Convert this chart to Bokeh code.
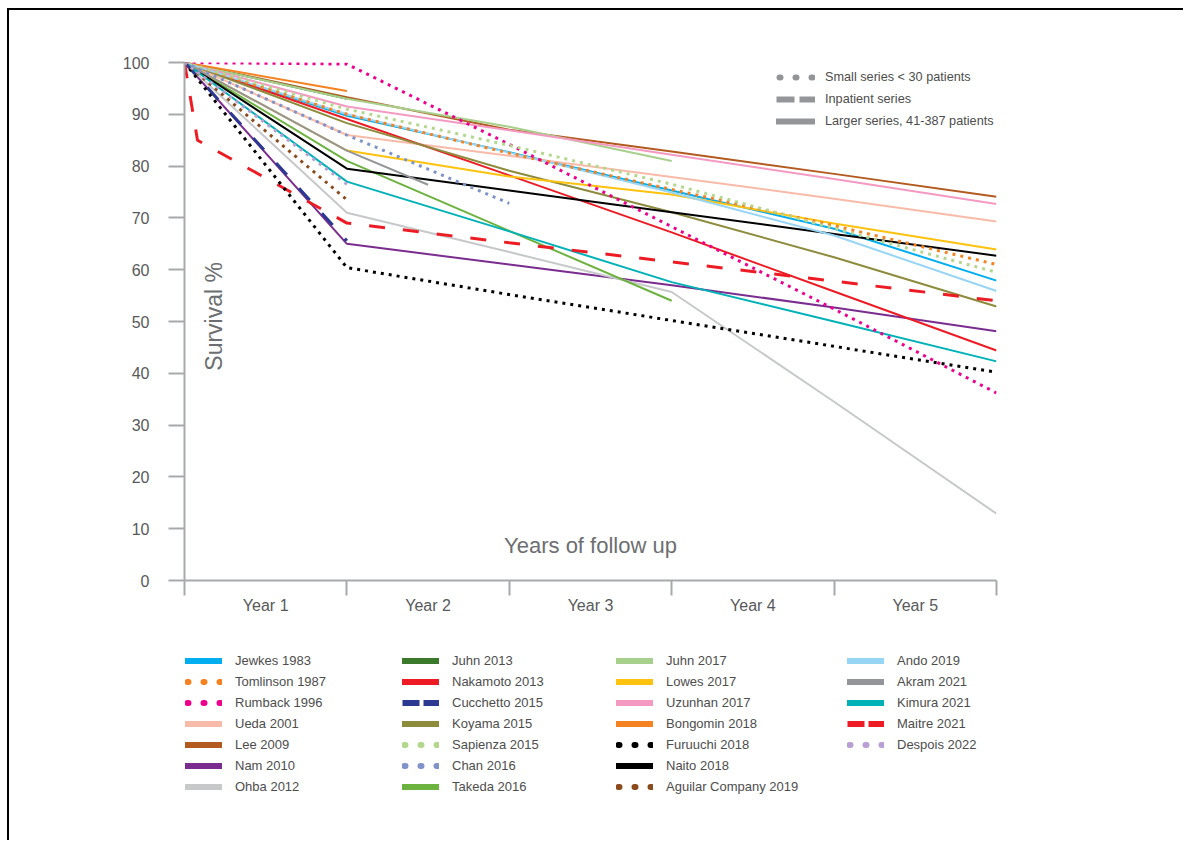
from bokeh.plotting import figure
from bokeh.layouts import column
from bokeh.models import FixedTicker, Legend, LegendItem, Label
from bokeh.embed import file_html
from bokeh.resources import INLINE

# ---------------- data ----------------
years = [0, 1, 2, 3, 4, 5]
year_tick_positions = [0.5, 1.5, 2.5, 3.5, 4.5]
year_labels = ["Year 1", "Year 2", "Year 3", "Year 4", "Year 5"]
y_ticks = [0, 10, 20, 30, 40, 50, 60, 70, 80, 90, 100]

jewkes_1983 = [100, 89.7, 82.7, 75.3, 67.9, 57.9]
tomlinson_1987 = [100, 90, 82.5, 75.5, 68.5, 61]
rumback_1996 = [100, 99.7, 84.2, 68.3, 52.4, 36.2]
ueda_2001 = [100, 86, 82, 77.9, 73.7, 69.3]
lee_2009 = [100, 93.3, 87, 82.8, 78.5, 74.1]
nam_2010 = [100, 65, 61, 57, 52.7, 48.1]
ohba_2012 = [100, 71, 63.4, 55.7, 34.5, 12.9]
juhn_2013 = [100, 93]
nakamoto_2013 = [100, 89.1, 78.2, 67.2, 55.8, 44.4]
cucchetto_2015 = [100, 65.6]
koyama_2015 = [100, 88.3, 79.1, 71.1, 62.4, 52.9]
sapienza_2015 = [100, 91, 84, 76.5, 68, 59.5]
chan_2016 = [100, 86, 72.8]
takeda_2016 = [100, 81, 67.5, 54]
juhn_2017 = [100, 93, 87.6, 81]
lowes_2017 = [100, 83, 78, 74.5, 68.9, 63.9]
uzunhan_2017 = [100, 91.5, 86.9, 82.2, 77.5, 72.7]
bongomin_2018 = [100, 94.5]
furuuchi_2018 = [100, 60.4, 55.2, 50.2, 45.2, 40.2]
naito_2018 = [100, 79.5, 75.3, 71.1, 66.9, 62.7]
aguilar_company_2019 = [100, 73.5]
ando_2019 = [100, 90, 82.6, 74.9, 66.6, 55.9]
akram_years = [0, 1, 1.5]
akram_2021 = [100, 83, 76.4]
kimura_2021 = [100, 77, 67.4, 57.6, 50, 42.3]
maitre_years = [0, 0.08, 1, 2, 3, 4, 5]
maitre_2021 = [100, 85, 69, 65.2, 61.5, 57.8, 54]
despois_2022 = [100, 76.5]

# ---------------- styles ----------------
SOLID, DASH, DOT = "solid", "dash", "dot"
series = [
    # name, x, y, color, style
    ("Jewkes 1983", years, jewkes_1983, "#00aeef", SOLID),
    ("Tomlinson 1987", years, tomlinson_1987, "#f58220", DOT),
    ("Rumback 1996", years, rumback_1996, "#ec008c", DOT),
    ("Ueda 2001", years, ueda_2001, "#f9bba9", SOLID),
    ("Lee 2009", years, lee_2009, "#b35a1f", SOLID),
    ("Nam 2010", years, nam_2010, "#7a2d8f", SOLID),
    ("Ohba 2012", years, ohba_2012, "#c7c8ca", SOLID),
    ("Juhn 2013", years, juhn_2013, "#3b7a2a", SOLID),
    ("Nakamoto 2013", years, nakamoto_2013, "#ed1c24", SOLID),
    ("Cucchetto 2015", years, cucchetto_2015, "#2b3990", DASH),
    ("Koyama 2015", years, koyama_2015, "#8d8b3c", SOLID),
    ("Sapienza 2015", years, sapienza_2015, "#b4d78e", DOT),
    ("Chan 2016", years, chan_2016, "#7f93c9", DOT),
    ("Takeda 2016", years, takeda_2016, "#6cb23f", SOLID),
    ("Juhn 2017", years, juhn_2017, "#a8d08d", SOLID),
    ("Lowes 2017", years, lowes_2017, "#ffc20e", SOLID),
    ("Uzunhan 2017", years, uzunhan_2017, "#f49ac2", SOLID),
    ("Bongomin 2018", years, bongomin_2018, "#f58220", SOLID),
    ("Furuuchi 2018", years, furuuchi_2018, "#000000", DOT),
    ("Naito 2018", years, naito_2018, "#000000", SOLID),
    ("Aguilar Company 2019", years, aguilar_company_2019, "#8b4a1c", DOT),
    ("Ando 2019", years, ando_2019, "#97d5f5", SOLID),
    ("Akram 2021", akram_years, akram_2021, "#939598", SOLID),
    ("Kimura 2021", years, kimura_2021, "#00b2b8", SOLID),
    ("Maitre 2021", maitre_years, maitre_2021, "#ed1c24", DASH),
    ("Despois 2022", years, despois_2022, "#b9a0d4", DOT),
]

FONT = "Liberation Sans"
TEXT = "#58595b"
AXIS = "#a7a9ac"
ORIGIN_X, ORIGIN_Y = 9, 10          # page position of the content (after border)
P_HEIGHT, Q_HEIGHT, WIDTH = 630, 200, 1174
FRAME_LEFT, FRAME_TOP, FRAME_RIGHT, FRAME_BOTTOM = 184, 62, 996, 580

p = figure(width=WIDTH, height=P_HEIGHT, x_range=(0, 5), y_range=(0, 100),
           output_backend="svg", toolbar_location=None,
           min_border_left=FRAME_LEFT - ORIGIN_X,
           min_border_right=WIDTH - (FRAME_RIGHT - ORIGIN_X),
           min_border_top=FRAME_TOP - ORIGIN_Y,
           min_border_bottom=P_HEIGHT - (FRAME_BOTTOM - ORIGIN_Y))
p.xgrid.visible = False
p.ygrid.visible = False
p.outline_line_color = None

# x axis: interval labels between year ticks
p.xaxis.ticker = FixedTicker(ticks=year_tick_positions, minor_ticks=years)
p.xaxis.major_label_overrides = {t: l for t, l in zip(year_tick_positions, year_labels)}
p.xaxis.major_tick_out = 0
p.xaxis.major_tick_in = 0
p.xaxis.minor_tick_out = 15
p.xaxis.minor_tick_in = 0
p.xaxis.minor_tick_line_color = AXIS
p.xaxis.minor_tick_line_width = 2
p.xaxis.major_label_standoff = 1

p.yaxis.ticker = FixedTicker(ticks=y_ticks)
p.yaxis.major_tick_out = 16
p.yaxis.major_tick_in = 0
p.yaxis.minor_tick_line_color = None
p.yaxis.major_label_standoff = 19

for ax in (p.xaxis, p.yaxis):
    ax.axis_line_color = AXIS
    ax.axis_line_width = 2
    ax.major_tick_line_color = AXIS
    ax.major_tick_line_width = 2
    ax.major_label_text_font = FONT
    ax.major_label_text_font_size = "16px"
    ax.major_label_text_color = TEXT

# ---------------- lines ----------------
def plot_style(style):
    if style == SOLID:
        return dict(line_width=2)
    if style == DASH:
        return dict(line_width=3, line_dash="16 18")
    return dict(line_width=3, line_dash="3 5")

order = [s for s in series if s[4] == SOLID] + [s for s in series if s[4] == DASH] + \
        [s for s in series if s[4] == DOT]
for name, xs, ys, color, style in order:
    p.line(xs[:len(ys)], ys, line_color=color, **plot_style(style))

# ---------------- axis titles ----------------
p.add_layout(Label(x=0.179, y=40.5, text="Survival %", angle=1.5708,
                   text_align="left", text_baseline="middle",
                   text_font=FONT, text_font_size="23px", text_color="#6d6e71"))
p.add_layout(Label(x=2.5, y=6.8, text="Years of follow up",
                   text_align="center", text_baseline="middle",
                   text_font=FONT, text_font_size="22px", text_color="#6d6e71"))

# ---------------- legends ----------------
def legend_glyph(fig, color, style, dash="17 4", dot_offset=-2, width=6):
    # off-range data: only the legend shows these
    xs, ys = [-20, -10], [-500, -500]
    if style == SOLID:
        return fig.line(xs, ys, line_color=color, line_width=width, line_cap="round")
    if style == DASH:
        return fig.line(xs, ys, line_color=color, line_width=width, line_dash=dash)
    return fig.line(xs, ys, line_color=color, line_width=width, line_dash="1 15",
                    line_dash_offset=dot_offset, line_cap="round")

def make_legend(fig, items, loc, glyph_w, standoff, row, font_size="13px"):
    leg = Legend(items=items, location=loc,
                 padding=0, spacing=0, margin=0,
                 glyph_height=row, label_height=row, glyph_width=glyph_w,
                 label_standoff=standoff,
                 border_line_color=None, background_fill_alpha=0,
                 label_text_font=FONT, label_text_font_size=font_size,
                 label_text_color="#4d4d4d")
    fig.add_layout(leg)

# key (top right, inside the plot frame)
KEY_ROW = 22
KEY_GRAY = "#939598"
key_items = [
    LegendItem(label="Small series < 30 patients",
               renderers=[legend_glyph(p, KEY_GRAY, DOT, dot_offset=-3)]),
    LegendItem(label="Inpatient series",
               renderers=[legend_glyph(p, KEY_GRAY, DASH, dash="18 5")]),
    LegendItem(label="Larger series, 41-387 patients",
               renderers=[legend_glyph(p, KEY_GRAY, SOLID)]),
]
key_bottom = 77 - KEY_ROW / 2 + KEY_ROW * 3
make_legend(p, key_items, (776 - FRAME_LEFT, FRAME_BOTTOM - key_bottom), 39, 10, KEY_ROW,
            font_size="12.7px")

# study legend: separate panel below the chart (its frame aligns with the chart frame)
q = figure(width=WIDTH, height=Q_HEIGHT, x_range=(0, 1), y_range=(0, 1),
           output_backend="svg", toolbar_location=None, min_border=0,
           x_axis_type=None, y_axis_type=None)
q.outline_line_color = None
q.xgrid.visible = False
q.ygrid.visible = False

ROW = 21
q_bottom_page = ORIGIN_Y + P_HEIGHT + Q_HEIGHT
columns = [series[0:7], series[7:14], series[14:21], series[21:26]]
col_left = [185, 402, 616, 847]
for col, left in zip(columns, col_left):
    items = [LegendItem(label=n, renderers=[legend_glyph(q, c, st)]) for n, _, _, c, st in col]
    bottom = 660 - ROW / 2 + ROW * len(items)
    make_legend(q, items, (left - FRAME_LEFT, q_bottom_page - bottom), 37, 13, ROW)

layout = column(p, q, spacing=0,
                styles={"margin-left": "7px", "margin-top": "8px",
                        "border-left": "2px solid #000", "border-top": "2px solid #000"})

open("out.html", "w").write(file_html(layout, INLINE))
